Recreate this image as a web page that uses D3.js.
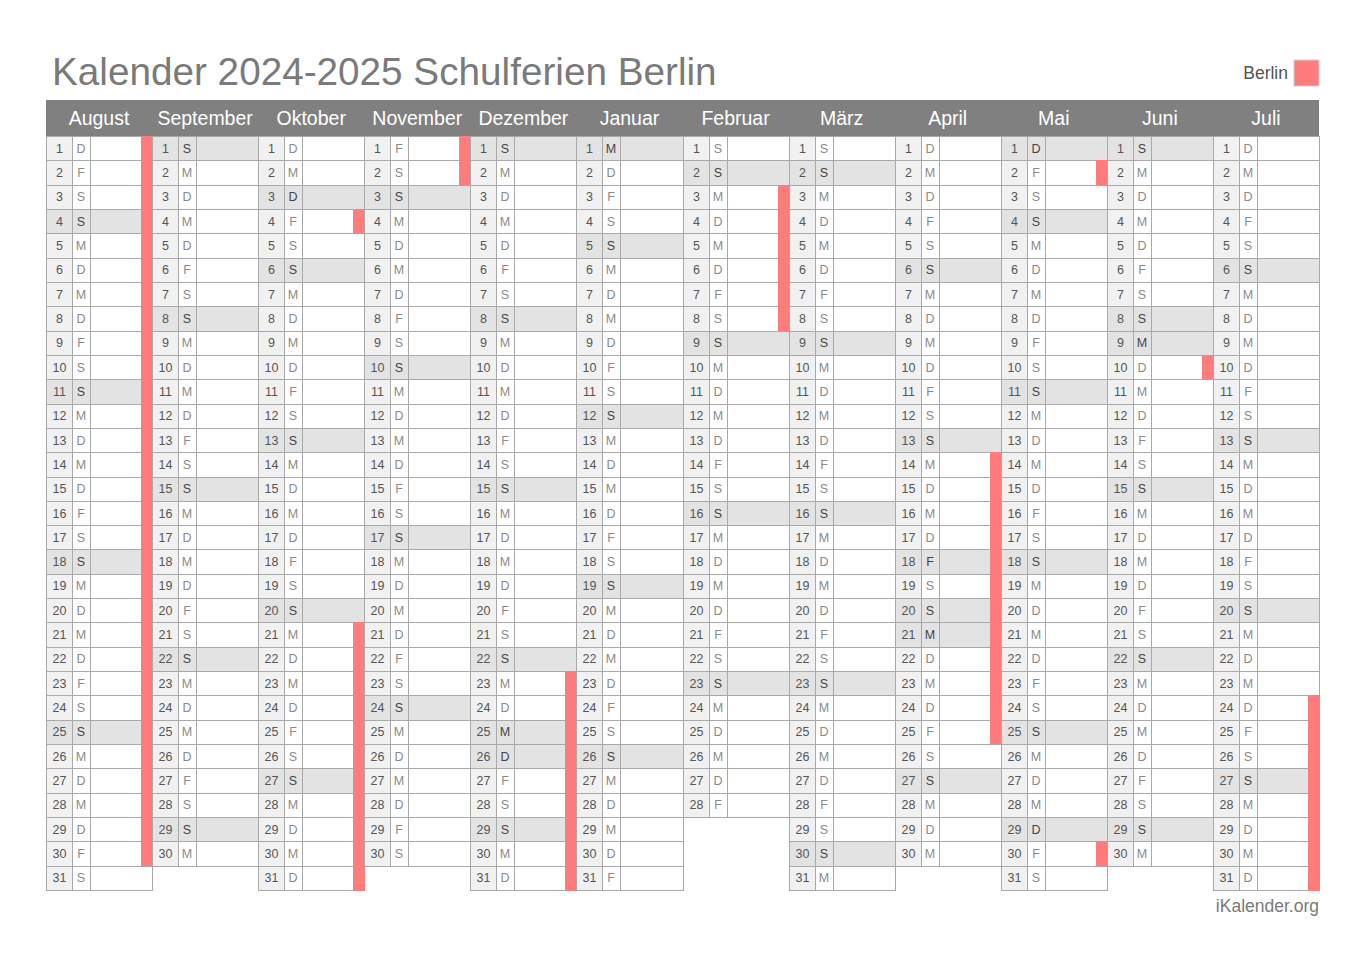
<!DOCTYPE html>
<html>
<head>
<meta charset="utf-8">
<script src="https://cdn.jsdelivr.net/npm/d3@7"></script>
<style>
  html, body { margin: 0; padding: 0; background: #fff; }
  svg { display: block; font-family: "Liberation Sans", Arial, Helvetica, sans-serif; }
</style>
</head>
<body>
<svg id="chart" width="1366" height="965"></svg>
<script>
// ---- data ----
const title = "Kalender 2024-2025 Schulferien Berlin";
const legendLabel = "Berlin";
const footer = "iKalender.org";
const monthNames = ["August","September","Oktober","November","Dezember","Januar","Februar","März","April","Mai","Juni","Juli"];
const monthYears = [2024,2024,2024,2024,2024,2025,2025,2025,2025,2025,2025,2025];
const monthIndex = [7,8,9,10,11,0,1,2,3,4,5,6];
const weekdayLetters = ["S","M","D","M","D","F","S"]; // So, Mo, Di, Mi, Do, Fr, Sa
const publicHolidays = ["2024-10-03","2024-12-25","2024-12-26","2025-01-01","2025-04-18","2025-04-21","2025-05-01","2025-05-29","2025-06-09"];
const schoolHolidays = [
  ["2024-08-01","2024-08-30"],
  ["2024-10-04","2024-10-04"],
  ["2024-10-21","2024-11-02"],
  ["2024-12-23","2024-12-31"],
  ["2025-02-03","2025-02-08"],
  ["2025-04-14","2025-04-25"],
  ["2025-05-02","2025-05-02"],
  ["2025-05-30","2025-05-30"],
  ["2025-06-10","2025-06-10"],
  ["2025-07-24","2025-07-31"]
];
const dayNumbers = d3.range(1, 32);

// ---- helpers ----
const fmt = d3.timeFormat("%Y-%m-%d");
const parse = d3.timeParse("%Y-%m-%d");
const holidaySet = new Set(publicHolidays);
const vacationSet = new Set();
schoolHolidays.forEach(([a, b]) => {
  d3.timeDay.range(parse(a), d3.timeDay.offset(parse(b), 1)).forEach(d => vacationSet.add(fmt(d)));
});

const cells = [];
monthNames.forEach((m, i) => {
  const start = new Date(monthYears[i], monthIndex[i], 1);
  const end = d3.timeMonth.offset(start, 1);
  d3.timeDay.range(start, end).forEach(d => {
    const key = fmt(d);
    cells.push({
      col: i,
      day: d.getDate(),
      letter: weekdayLetters[d.getDay()],
      grey: d.getDay() === 0 || holidaySet.has(key),
      vacation: vacationSet.has(key)
    });
  });
});

// ---- layout ----
const svg = d3.select("#chart");
const left = 46, right = 1319, headerTop = 100, gridTop = 136, gridBottom = 890;
const x = d3.scaleBand().domain(d3.range(monthNames.length)).range([left, right]).padding(0);
const y = d3.scaleBand().domain(dayNumbers).range([gridTop, gridBottom]).padding(0);
const numW = 26, letW = 18, barW = 12;

const colors = {
  text: "#7a7a7a",
  header: "#808080",
  numBg: "#f1f1f1",
  greyBg: "#e3e3e3",
  line: "#a9a9a9",
  bar: "#ff7c7c",
  num: "#555",
  letter: "#8a8a8a",
  letterDark: "#444"
};

// title
svg.append("text")
  .attr("x", 52).attr("y", 85)
  .attr("font-size", 38.7)
  .attr("fill", colors.text)
  .text(title);

// legend
svg.append("rect")
  .attr("x", 1294).attr("y", 60).attr("width", 25).attr("height", 26)
  .attr("fill", colors.bar).attr("stroke", "#d0d0d0").attr("stroke-width", 1);
svg.append("text")
  .attr("x", 1288).attr("y", 79)
  .attr("text-anchor", "end")
  .attr("font-size", 17.5)
  .attr("fill", "#555")
  .text(legendLabel);

// header bar
svg.append("rect")
  .attr("x", left).attr("y", headerTop)
  .attr("width", right - left).attr("height", gridTop - headerTop)
  .attr("fill", colors.header);
svg.append("g").selectAll("text")
  .data(monthNames)
  .join("text")
  .attr("x", (d, i) => x(i) + x.bandwidth() / 2)
  .attr("y", 125)
  .attr("text-anchor", "middle")
  .attr("font-size", 19.5)
  .attr("fill", "#fff")
  .text(d => d);

// cells
const px = v => Math.round(v);
const g = svg.append("g");
const cg = g.selectAll("g.cell").data(cells).join("g").attr("class", "cell");

cg.append("rect")
  .attr("x", d => px(x(d.col)))
  .attr("y", d => px(y(d.day)))
  .attr("width", d => px(x(d.col) + x.bandwidth()) - px(x(d.col)))
  .attr("height", d => px(y(d.day) + y.bandwidth()) - px(y(d.day)))
  .attr("fill", d => d.grey ? colors.greyBg : "#fff");

cg.append("rect")
  .attr("x", d => px(x(d.col)))
  .attr("y", d => px(y(d.day)))
  .attr("width", numW)
  .attr("height", d => px(y(d.day) + y.bandwidth()) - px(y(d.day)))
  .attr("fill", d => d.grey ? colors.greyBg : colors.numBg);

// grid lines
cg.append("rect")
  .attr("x", d => px(x(d.col)) + 0.5)
  .attr("y", d => px(y(d.day)) + 0.5)
  .attr("width", d => px(x(d.col) + x.bandwidth()) - px(x(d.col)))
  .attr("height", d => px(y(d.day) + y.bandwidth()) - px(y(d.day)))
  .attr("fill", "none")
  .attr("stroke", colors.line)
  .attr("stroke-width", 1);
[numW, numW + letW].forEach(off => {
  cg.append("line")
    .attr("x1", d => px(x(d.col)) + off + 0.5)
    .attr("x2", d => px(x(d.col)) + off + 0.5)
    .attr("y1", d => px(y(d.day)))
    .attr("y2", d => px(y(d.day) + y.bandwidth()))
    .attr("stroke", colors.line)
    .attr("stroke-width", 1);
});

// vacation bars
cg.filter(d => d.vacation).append("rect")
  .attr("x", d => px(x(d.col) + x.bandwidth()) - barW + 1)
  .attr("y", d => px(y(d.day)))
  .attr("width", barW)
  .attr("height", d => px(y(d.day) + y.bandwidth()) - px(y(d.day)) + 1)
  .attr("fill", colors.bar);

// text
cg.append("text")
  .attr("x", d => px(x(d.col)) + numW / 2 + 0.5)
  .attr("y", d => y(d.day) + y.bandwidth() / 2 + 4.5)
  .attr("text-anchor", "middle")
  .attr("font-size", 12.5)
  .attr("fill", colors.num)
  .text(d => d.day);
cg.append("text")
  .attr("x", d => px(x(d.col)) + numW + letW / 2)
  .attr("y", d => y(d.day) + y.bandwidth() / 2 + 4.5)
  .attr("text-anchor", "middle")
  .attr("font-size", 12.5)
  .attr("fill", d => d.grey ? colors.letterDark : colors.letter)
  .text(d => d.letter);

// footer
svg.append("text")
  .attr("x", 1319).attr("y", 912)
  .attr("text-anchor", "end")
  .attr("font-size", 17.5)
  .attr("fill", "#7a7a7a")
  .text(footer);
</script>
</body>
</html>
